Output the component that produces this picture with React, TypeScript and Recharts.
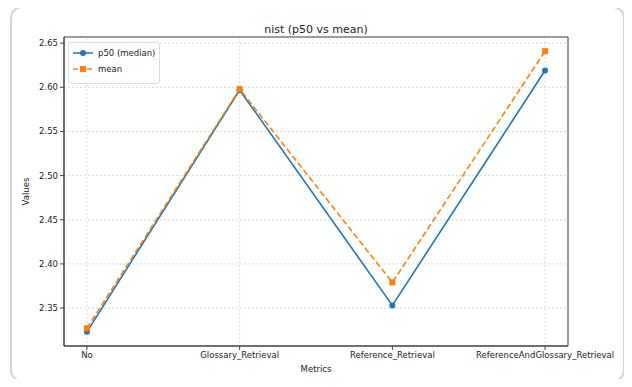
import React from 'react';
import { LineChart, Line, XAxis, YAxis, CartesianGrid, ReferenceArea } from 'recharts';

const categories = ['No', 'Glossary_Retrieval', 'Reference_Retrieval', 'ReferenceAndGlossary_Retrieval'];
const p50Values = [2.323, 2.597, 2.353, 2.619];
const meanValues = [2.327, 2.598, 2.379, 2.641];
const yTicks = [2.35, 2.4, 2.45, 2.5, 2.55, 2.6, 2.65];

const BLUE = '#1f77b4';
const ORANGE = '#ff7f0e';
const FONT = '"DejaVu Sans", sans-serif';

const data = categories.map((name, i) => ({ idx: i, name, p50: p50Values[i], mean: meanValues[i] }));

const X_MIN = -0.15;
const X_MAX = 3.15;
const Y_MIN = 2.307;
const Y_MAX = 2.657;

const SquareDot = (props: any) => {
  const { cx, cy } = props;
  if (cx == null || cy == null) return null;
  return <rect x={cx - 3} y={cy - 3} width={6} height={6} fill={ORANGE} />;
};

const CircleDot = (props: any) => {
  const { cx, cy } = props;
  if (cx == null || cy == null) return null;
  return <circle cx={cx} cy={cy} r={3} fill={BLUE} />;
};

const LegendBox = () => (
  <div
    style={{
      position: 'absolute', left: 68, top: 42, width: 90, height: 40,
      border: '1px solid #ddd', borderRadius: 3, background: 'rgba(255,255,255,0.8)',
    }}
  >
    <svg width={90} height={40} style={{ position: 'absolute', left: 0, top: 0 }}>
      <line x1={4} y1={10} x2={24} y2={10} stroke={BLUE} strokeWidth={1.5} />
      <circle cx={14} cy={10} r={3} fill={BLUE} />
      <line x1={4} y1={26} x2={24} y2={26} stroke={ORANGE} strokeWidth={1.5} strokeDasharray="5 2" />
      <rect x={11} y={23} width={6} height={6} fill={ORANGE} />
      <text x={29} y={13} fontFamily={FONT} fontSize={8.5} fill="#222">p50 (median)</text>
      <text x={29} y={29} fontFamily={FONT} fontSize={8.5} fill="#222">mean</text>
    </svg>
  </div>
);

export default function App() {
  return (
    <div style={{ position: 'relative', width: 632, height: 387, margin: -8, background: '#fff' }}>
      <div
        style={{
          position: 'absolute', left: 10, top: 6, width: 611, height: 372,
          border: '2px solid #d6d6d6', borderRadius: 12,
        }}
      />
      <div
        style={{
          position: 'absolute', left: 64, width: 504, top: 23, textAlign: 'center',
          fontFamily: FONT, fontSize: 11, color: '#222',
        }}
      >
        nist (p50 vs mean)
      </div>
      <div style={{ position: 'absolute', left: 0, top: 0 }}>
        <LineChart width={632} height={387} data={data} margin={{ top: 37, right: 64, bottom: 0, left: 0 }}>
          <CartesianGrid stroke="#d8d8d8" strokeDasharray="2 2" />
          <XAxis
            dataKey="idx"
            type="number"
            domain={[X_MIN, X_MAX]}
            ticks={[0, 1, 2, 3]}
            tickFormatter={(v: number) => categories[v]}
            height={41}
            tickSize={4}
            stroke="#444"
            tick={{ fontFamily: FONT, fontSize: 8.5, fill: '#222' }}
            label={{ value: 'Metrics', position: 'insideBottom', offset: 15, style: { fontFamily: FONT, fontSize: 8.5, fill: '#222' } }}
            allowDataOverflow
          />
          <YAxis
            type="number"
            domain={[Y_MIN, Y_MAX]}
            ticks={yTicks}
            tickFormatter={(v: number) => v.toFixed(2)}
            width={64}
            tickSize={4}
            stroke="#444"
            tick={{ fontFamily: FONT, fontSize: 8.5, fill: '#222' }}
            label={{ value: 'Values', angle: -90, position: 'insideLeft', offset: 26, style: { fontFamily: FONT, fontSize: 8.5, fill: '#222', textAnchor: 'middle' } }}
            allowDataOverflow
          />
          <ReferenceArea x1={X_MIN} x2={X_MAX} y1={Y_MIN} y2={Y_MAX} fill="none" stroke="#444" strokeWidth={1} ifOverflow="extendDomain" />
          <Line
            dataKey="p50"
            stroke={BLUE}
            strokeWidth={1.6}
            dot={<CircleDot />}
            activeDot={false}
            isAnimationActive={false}
          />
          <Line
            dataKey="mean"
            stroke={ORANGE}
            strokeWidth={1.6}
            strokeDasharray="6 3"
            dot={<SquareDot />}
            activeDot={false}
            isAnimationActive={false}
          />
        </LineChart>
      </div>
      <LegendBox />
    </div>
  );
}
